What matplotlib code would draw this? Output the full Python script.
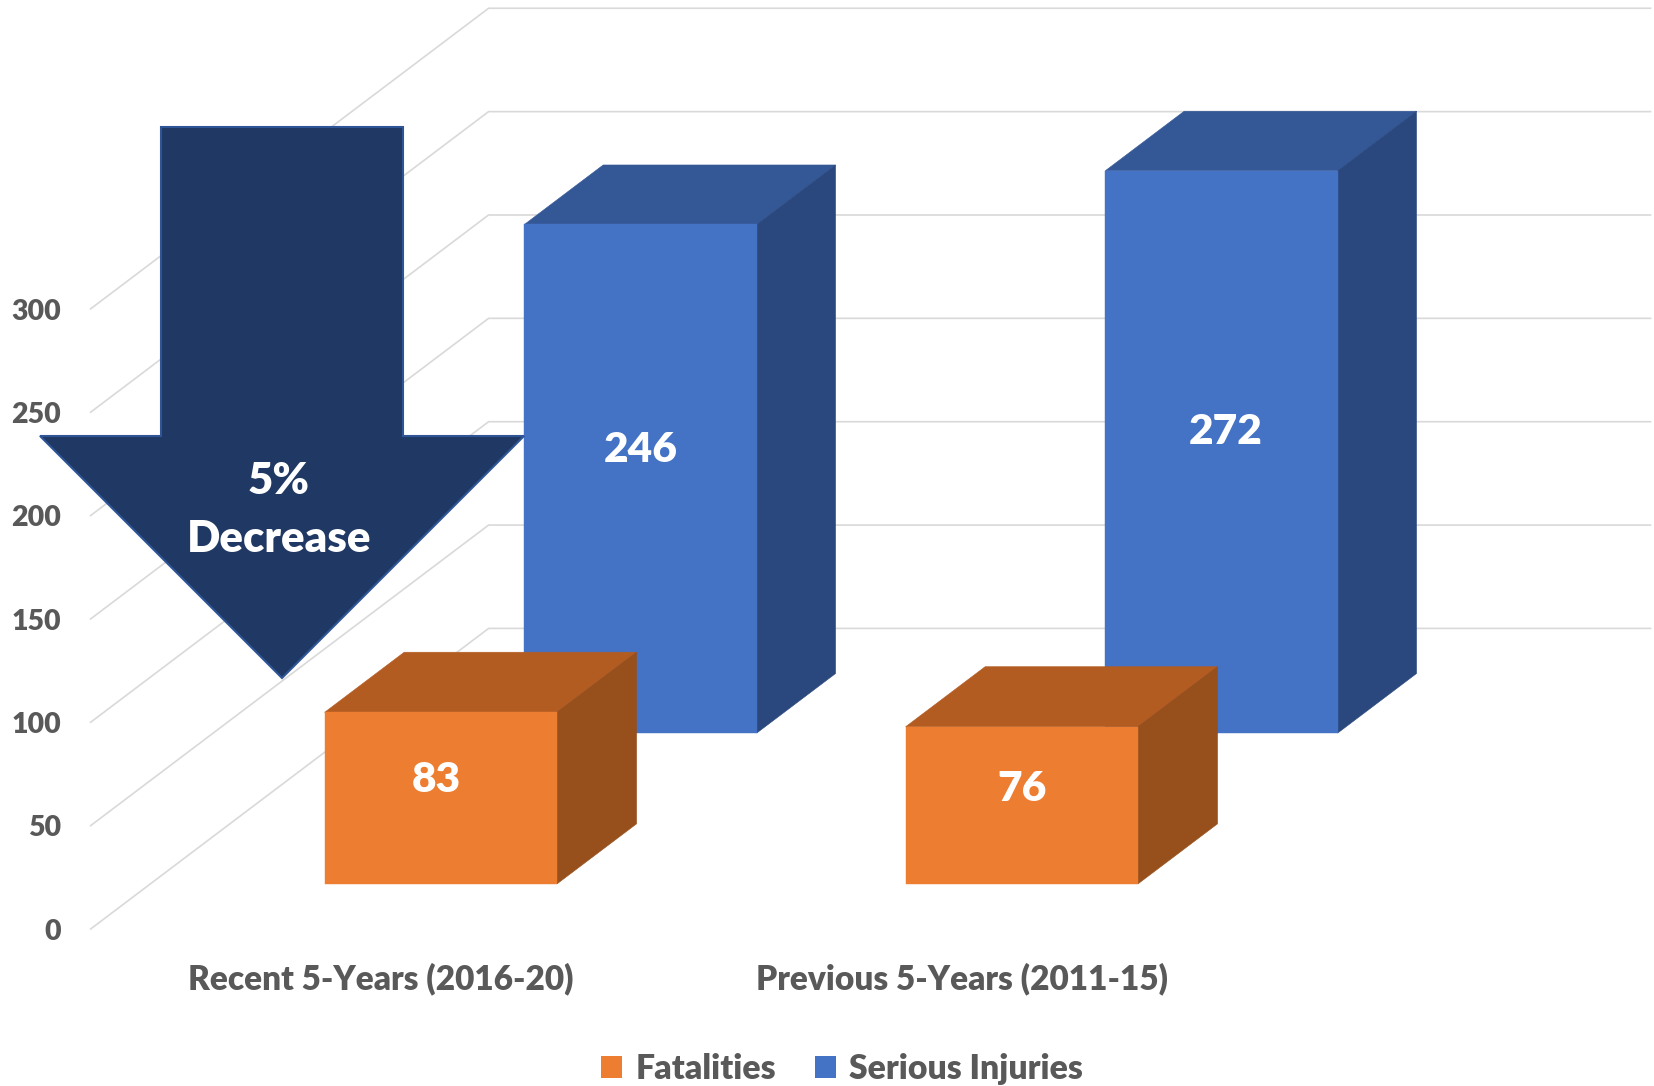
"""
Fatalities and serious injuries, recent vs previous 5 years, drawn as 3D looking columns.
"""

import matplotlib
matplotlib.use("Agg")
import matplotlib.pyplot as plt
from matplotlib.patches import Polygon, Patch

categories = ["Recent 5-Years (2016-20)", "Previous 5-Years (2011-15)"]
series_names = ["Fatalities", "Serious Injuries"]
fatalities = [83, 76]
serious_injuries = [246, 272]
y_ticks = [0, 50, 100, 150, 200, 250, 300]
arrow_text = "5%\nDecrease"

# Oblique projection: how far one full step of depth moves a point
DEPTH_X = 0.685
DEPTH_Y = 145.4
BAR_WIDTH = 0.4
GRID = "#D9D9D9"
TEXT = "#595959"

plt.rcParams["font.family"] = ["Lato", "DejaVu Sans"]
plt.rcParams["font.weight"] = "heavy"


def proj(x, depth, value):
    return (x + depth * DEPTH_X, value + depth * DEPTH_Y)


def draw_box(ax, x, value, d0, d1, front, top, side, z):
    left = x - BAR_WIDTH / 2
    right = x + BAR_WIDTH / 2
    ax.add_patch(Polygon([proj(left, d1, value), proj(right, d1, value), proj(right, d0, value), proj(left, d0, value)],
                         facecolor=top, edgecolor=top, linewidth=0.4, zorder=z))
    ax.add_patch(Polygon([proj(right, d0, 0), proj(right, d1, 0), proj(right, d1, value), proj(right, d0, value)],
                         facecolor=side, edgecolor=side, linewidth=0.4, zorder=z))
    ax.add_patch(Polygon([proj(left, d0, 0), proj(right, d0, 0), proj(right, d0, value), proj(left, d0, value)],
                         facecolor=front, edgecolor=front, linewidth=0.3, zorder=z))


fig = plt.figure(figsize=(16.54, 10.86), dpi=100)
ax = fig.add_axes([0, 0, 1, 1])
ax.set_xlim(-0.656, 2.191)
ax.set_ylim(-75.95, 449.4)
ax.axis("off")

# Side wall and back wall gridlines
for v in y_ticks:
    xs, ys = zip(proj(-0.5, 0, v), proj(-0.5, 1, v), proj(1.5, 1, v))
    ax.plot(xs, ys, color=GRID, linewidth=1.2, zorder=1, solid_joinstyle="miter")
    ax.annotate(str(v), (-0.551, v), xytext=(0, -2), textcoords="offset points",
                ha="right", va="center", fontsize=20.5, color=TEXT)

# Blue columns sit behind the orange ones
for i, v in enumerate(serious_injuries):
    draw_box(ax, i, v, 0.652, 0.85, "#4472C4", "#345796", "#2A487E", 3)
for i, v in enumerate(fatalities):
    draw_box(ax, i, v, 0.15, 0.35, "#ED7D31", "#B35C22", "#97501C", 4)

# Data labels, nudged in points to where they sit on the front faces
label_nudge_inj = [(0, 21), (3, 14)]
label_nudge_fat = [(-3, 13), (0, 12)]
for i, v in enumerate(serious_injuries):
    ax.annotate(str(v), proj(i, 0.652, v / 2), xytext=label_nudge_inj[i], textcoords="offset points",
                ha="center", va="center", fontsize=30.5, color="white", zorder=6)
for i, v in enumerate(fatalities):
    ax.annotate(str(v), proj(i, 0.15, v / 2), xytext=label_nudge_fat[i], textcoords="offset points",
                ha="center", va="center", fontsize=30.5, color="white", zorder=6)

# Category names under the floor
for i, name in enumerate(categories):
    ax.text(i, -24, name, ha="center", va="center", fontsize=24, color=TEXT)

# The big arrow is a slide shape, placed in figure pixels
W, H = 1654.0, 1086.0
arrow_px = [(161, 127), (403, 127), (403, 436), (524, 436), (282, 678), (40, 436), (161, 436)]
ax.add_patch(Polygon([(px / W, 1 - py / H) for px, py in arrow_px], transform=ax.transAxes,
                     facecolor="#203864", edgecolor="#2F5597", linewidth=1.5, zorder=5))
ax.text(279 / W, 1 - 510 / H, arrow_text, transform=ax.transAxes, ha="center", va="center",
        fontsize=31.5, color="white", linespacing=1.52, zorder=6)

handles = [Patch(facecolor="#ED7D31"), Patch(facecolor="#4472C4")]
ax.legend(handles, series_names, loc="center", bbox_to_anchor=(842 / W, 1 - 1069 / H), ncol=2, frameon=False,
          fontsize=24.3, labelcolor=TEXT, handlelength=0.62, handleheight=0.62, handletextpad=0.4, columnspacing=1.15,
          borderpad=0, borderaxespad=0)

fig.savefig("out.png", dpi=100)
